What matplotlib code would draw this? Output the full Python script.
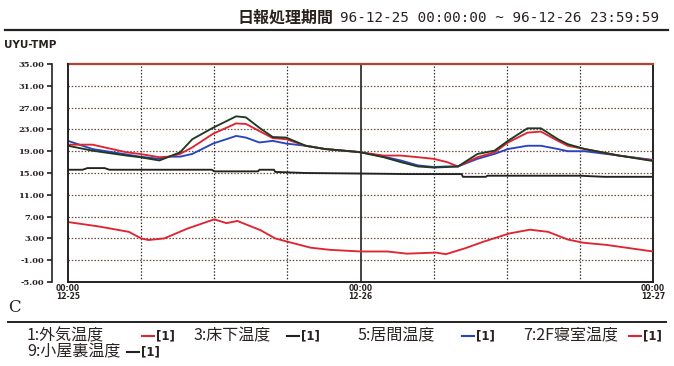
import matplotlib.pyplot as plt

plt.rcParams['font.family'] = ['Noto Sans CJK JP', 'DejaVu Sans']

# hourly readings over two days (0 h = 96-12-25 00:00)
hours = [0, 2, 4.8, 5.9, 7.5, 8.3, 9.2, 10.2, 11.9, 13.8, 14.6, 15.7, 16.8, 17.9,
         19.5, 21.1, 23.6, 24, 25.9, 27.3, 28.7, 30, 31.1, 32, 33.6, 35, 36.1,
         37.7, 38.8, 40.2, 41, 42.4, 45.2, 48]
living = [20.9, 19.4, 18.4, 18.0, 17.6, 18.0, 18.0, 18.5, 20.4, 21.8, 21.5, 20.6,
          20.9, 20.4, 20.0, 19.4, 18.9, 18.8, 18.0, 17.3, 16.4, 16.1, 16.2, 16.2,
          17.6, 18.5, 19.4, 20.0, 20.0, 19.4, 19.0, 19.0, 18.2, 17.4]
bedroom = [20.2, 20.2, 18.8, 18.5, 17.9, 18.0, 18.5, 19.7, 22.2, 24.1, 24.0, 22.7,
           21.4, 21.2, 20.0, 19.4, 18.9, 18.8, 18.2, 18.2, 17.9, 17.6, 17.0, 16.2,
           17.9, 18.8, 20.6, 22.4, 22.6, 20.9, 20.0, 19.4, 18.2, 17.3]
attic = [20.0, 19.1, 18.2, 17.9, 17.3, 18.0, 18.8, 21.2, 23.3, 25.4, 25.2, 23.3,
         21.6, 21.5, 20.0, 19.4, 18.9, 18.8, 17.9, 17.0, 16.2, 16.0, 16.1, 16.2,
         18.5, 19.1, 20.9, 23.2, 23.2, 21.2, 20.3, 19.4, 18.2, 17.2]

floor_hours = [0, 1.2, 1.6, 3.0, 3.4, 11.8, 12.0, 15.6, 15.7, 16.9, 17.0, 19.5,
               24, 28, 32.3, 32.4, 34.3, 34.4, 42, 44, 48]
floor = [15.6, 15.6, 15.9, 15.9, 15.6, 15.6, 15.3, 15.3, 15.6, 15.6, 15.2, 15.0,
         14.9, 14.8, 14.8, 14.3, 14.3, 14.5, 14.5, 14.3, 14.3]

out_hours = [0, 2.5, 5, 6, 6.6, 7.9, 9.8, 12, 13, 13.9, 15.8, 17, 18, 19.9, 21.5,
             24, 26.2, 27.8, 30.2, 31, 32.6, 34.1, 36.2, 37.9, 39.4, 41, 42.3,
             44.2, 46.1, 48]
outdoor = [6.0, 5.2, 4.2, 3.0, 2.7, 3.0, 4.8, 6.5, 5.8, 6.2, 4.5, 3.0, 2.4, 1.3,
           0.9, 0.6, 0.6, 0.2, 0.4, 0.1, 1.2, 2.4, 3.9, 4.6, 4.2, 2.8, 2.2, 1.8,
           1.2, 0.6]

y_ticks = [-5, -1, 3, 7, 11, 15, 19, 23, 27, 31, 35]
x_ticks = [0, 24, 48]
x_labels = ['00:00\n12-25', '00:00\n12-26', '00:00\n12-27']

ink = '#2a2220'
W, H = 674, 366

fig = plt.figure(figsize=(W / 100, H / 100), dpi=100)
ax = fig.add_axes([68 / W, 1 - 282 / H, 585 / W, 218 / H])
ax.set_xlim(0, 48)
ax.set_ylim(-5, 35)

# dotted grid, solid line at midnight
for v in y_ticks[1:-1]:
    ax.axhline(v, color='#6a5040', lw=0.9, ls=(0, (1.2, 1.4)), zorder=1)
for h in [6, 12, 18, 30, 36, 42]:
    ax.axvline(h, color='#333333', lw=0.9, ls=(0, (1.2, 1.4)), zorder=1)
ax.axvline(24, color='#222222', lw=1.2, zorder=1)
ax.axvline(0, color='#222222', lw=1.4, zorder=5, clip_on=False)

lw = 1.35
ax.plot(hours, living, color='#2a44c0', lw=lw, zorder=3)
ax.plot(hours, bedroom, color='#e02532', lw=lw, zorder=3)
ax.plot(hours, attic, color='#1f3a22', lw=lw, zorder=3)
ax.plot(floor_hours, floor, color='#222222', lw=lw, zorder=3)
ax.plot(out_hours, outdoor, color='#e02532', lw=lw, zorder=3)

for s in ['right', 'bottom']:
    ax.spines[s].set_linewidth(1.4)
    ax.spines[s].set_color('#222222')
ax.spines['top'].set_linewidth(1.6)
ax.spines['top'].set_color('#b04232')
ax.spines['left'].set_position(('outward', 11.5))
ax.spines['left'].set_linewidth(1.2)
ax.spines['left'].set_color('#222222')

ax.set_yticks(y_ticks)
ax.set_yticklabels(['%.2f' % v for v in y_ticks], fontfamily='DejaVu Serif',
                   fontweight='bold', fontsize=6, color=ink)
ax.tick_params(axis='y', direction='out', length=3.5, width=1.2, pad=2, color='#222222')
ax.set_xticks(x_ticks)
ax.set_xticklabels(x_labels, fontfamily='DejaVu Sans', fontweight='bold',
                   fontsize=5.5, color=ink, linespacing=0.85)
ax.tick_params(axis='x', length=0, pad=1.5)

# header
fig.text(237 / W, 1 - 18 / H, '日報処理期間', fontsize=11.5, fontweight='bold',
         color=ink, va='center', ha='left')
fig.text(340 / W, 1 - 18 / H, '96-12-25 00:00:00 ~ 96-12-26 23:59:59',
         fontfamily='DejaVu Sans Mono', fontsize=10.3, color=ink, va='center', ha='left')
fig.add_artist(plt.Line2D([5 / W, 668 / W], [1 - 30 / H, 1 - 30 / H],
                          color='#222222', lw=1.6))
fig.text(4 / W, 1 - 45 / H, 'UYU-TMP', fontfamily='DejaVu Sans', fontsize=7.5,
         fontweight='bold', color=ink, va='center', ha='left')
fig.text(8 / W, 1 - 307 / H, 'C', fontfamily='DejaVu Serif', fontsize=12,
         color=ink, va='center', ha='left')
fig.add_artist(plt.Line2D([8 / W, 666 / W], [1 - 322 / H, 1 - 322 / H],
                          color='#222222', lw=1.4))

# legend rows: label, colour sample, trend number
legend_items = [
    (27, 336, '1:外気温度', 142, '#e02532'),
    (193, 336, '3:床下温度', 287, '#222222'),
    (357, 336, '5:居間温度', 462, '#2a44c0'),
    (523, 336, '7:2F寝室温度', 629, '#e02532'),
    (27, 352, '9:小屋裏温度', 127, '#222222'),
]
for x, y, name, xd, col in legend_items:
    fig.text(x / W, 1 - y / H, name, fontsize=11.5, color=ink, va='center', ha='left')
    fig.add_artist(plt.Line2D([xd / W, (xd + 12) / W], [1 - y / H, 1 - y / H],
                              color=col, lw=1.5))
    fig.text((xd + 14) / W, 1 - y / H, '[1]', fontfamily='DejaVu Sans', fontsize=8.5,
             fontweight='bold', color=ink, va='center', ha='left')

fig.savefig('out.png', dpi=100)
